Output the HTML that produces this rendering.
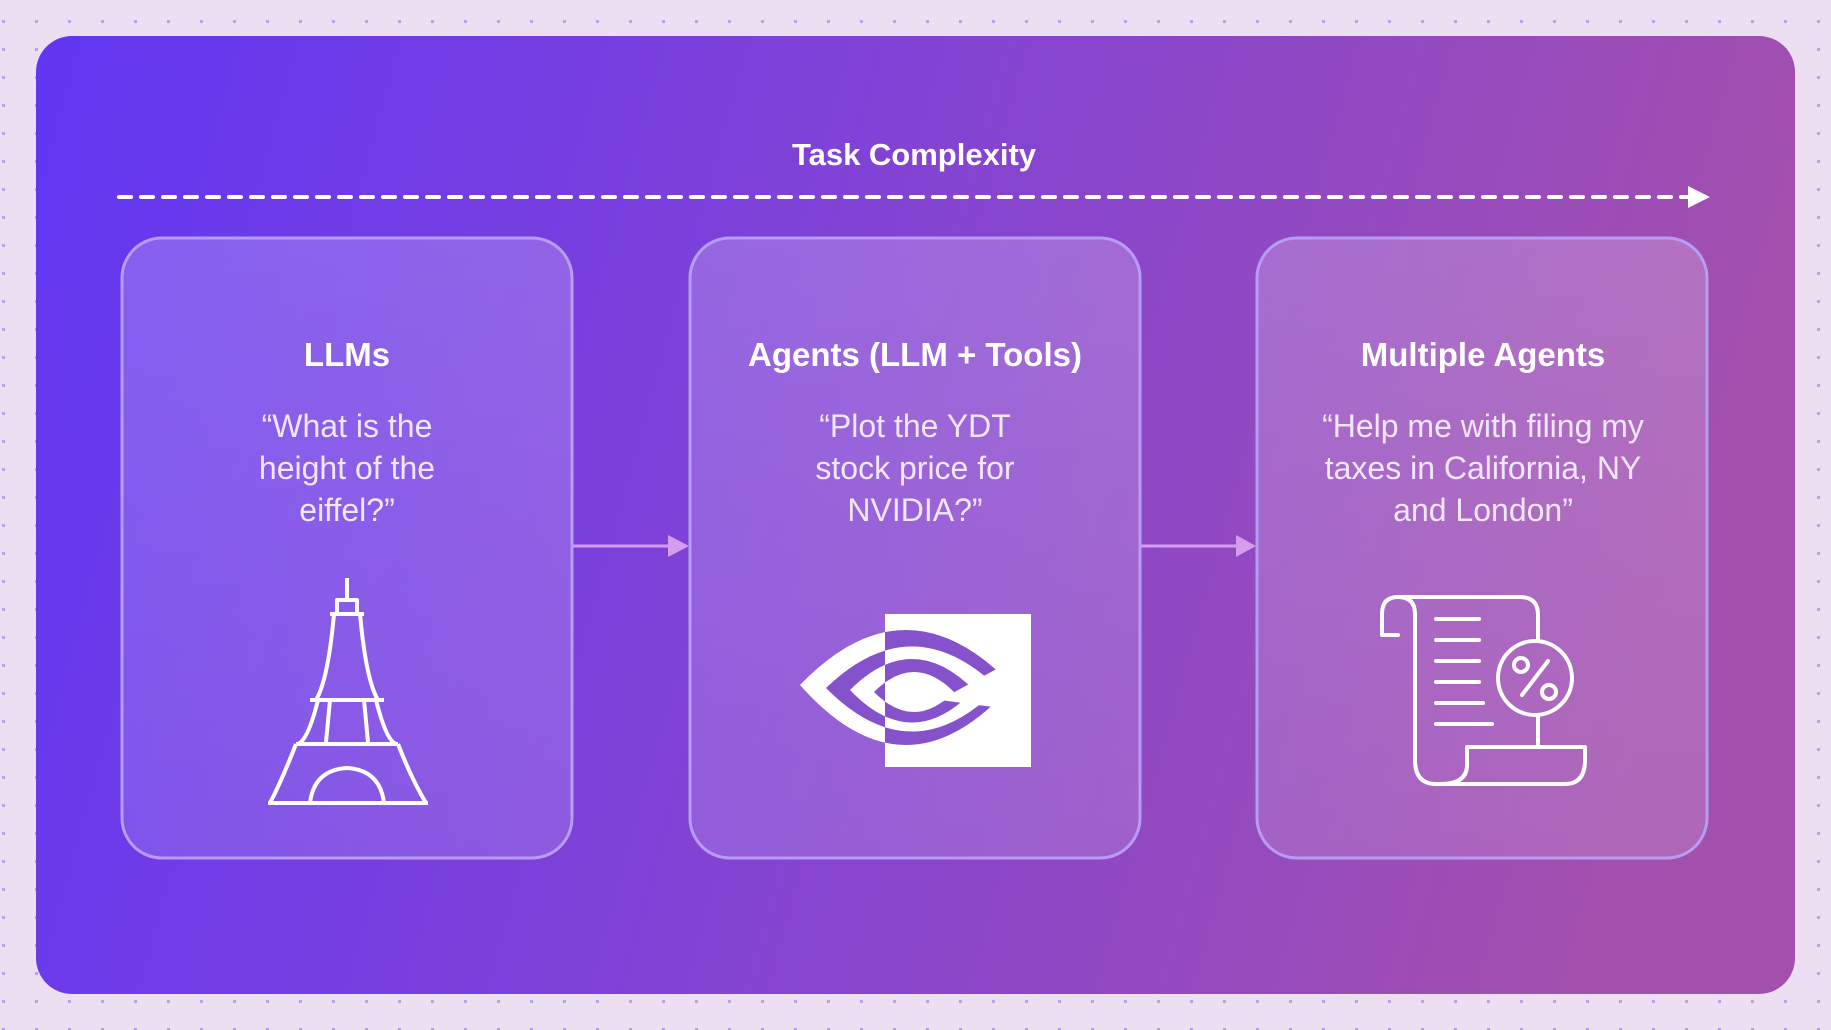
<!DOCTYPE html>
<html><head><meta charset="utf-8"><style>
html,body{margin:0;padding:0;width:1831px;height:1030px;overflow:hidden;background:#ebdff1;font-family:"Liberation Sans",sans-serif}
</style></head><body>
<svg width="1831" height="1030" viewBox="0 0 1831 1030" xmlns="http://www.w3.org/2000/svg">
<defs>
<pattern id="dots" width="33" height="28" patternUnits="userSpaceOnUse"><rect x="2" y="20" width="3" height="3" fill="#b7a3e6"/></pattern>
<linearGradient id="bg" x1="0" y1="0" x2="1" y2="0.15">
<stop offset="0" stop-color="#6136f2"/><stop offset="0.45" stop-color="#7f42d8"/><stop offset="1" stop-color="#a24fae"/></linearGradient>
<linearGradient id="card" x1="0" y1="0" x2="0" y2="1">
<stop offset="0" stop-color="#ffffff" stop-opacity="0.2"/><stop offset="1" stop-color="#ffffff" stop-opacity="0.13"/></linearGradient>
<clipPath id="cl"><rect x="780" y="590" width="105" height="200"/></clipPath>
<clipPath id="cr"><rect x="885" y="614" width="146" height="153"/></clipPath>
<path id="p1" d="M800 685 Q906 575 1012 685 Q906 805 800 685Z"/>
<path id="p2" d="M826 688 Q912 605 998 688 Q912 775 826 688Z"/>
<path id="p3" d="M850 690 Q912 628 974 690 Q912 755 850 690Z"/>
<path id="p4" d="M874 692 Q914 652 954 692 Q914 732 874 692Z"/>
</defs>
<rect width="1831" height="1030" fill="#ebdff1"/>
<rect width="1831" height="1030" fill="url(#dots)"/>
<rect x="36" y="36" width="1759" height="958" rx="36" fill="url(#bg)"/>
<text x="914" y="165" text-anchor="middle" font-size="31" font-weight="bold" fill="#fff">Task Complexity</text>
<line x1="119" y1="197" x2="1690" y2="197" stroke="#fff" stroke-width="4" stroke-dasharray="12,10" stroke-linecap="round"/>
<polygon points="1688,186 1710,197 1688,208" fill="#fff"/>
<line x1="572" y1="546" x2="672" y2="546" stroke="#d59cf0" stroke-width="3"/>
<polygon points="668,535 689,546 668,557" fill="#d59cf0"/>
<line x1="1140" y1="546" x2="1240" y2="546" stroke="#d59cf0" stroke-width="3"/>
<polygon points="1236,535 1256,546 1236,557" fill="#d59cf0"/>
<g stroke="#b89cf4" stroke-width="3" fill="url(#card)">
<rect x="122" y="238" width="450" height="620" rx="40"/>
<rect x="690" y="238" width="450" height="620" rx="40"/>
<rect x="1257" y="238" width="450" height="620" rx="40"/>
</g>
<g fill="#fff" text-anchor="middle">
<text x="347" y="366" font-size="33" font-weight="bold">LLMs</text>
<text x="915" y="366" font-size="33" font-weight="bold">Agents (LLM + Tools)</text>
<text x="1483" y="366" font-size="33" font-weight="bold">Multiple Agents</text>
<g font-size="32" fill="#f1e6fb">
<text x="347" y="437">“What is the</text><text x="347" y="479">height of the</text><text x="347" y="521">eiffel?”</text>
<text x="915" y="437">“Plot the YDT</text><text x="915" y="479">stock price for</text><text x="915" y="521">NVIDIA?”</text>
<text x="1483" y="437">“Help me with filing my</text><text x="1483" y="479">taxes in California, NY</text><text x="1483" y="521">and London”</text>
</g></g>
<!-- Eiffel -->
<g stroke="#fff" stroke-width="4" fill="none" stroke-linejoin="round">
<line x1="347" y1="578" x2="347" y2="600"/>
<rect x="337" y="600" width="20" height="14"/>
<line x1="330" y1="614" x2="364" y2="614"/>
<path d="M334 614 Q328 680 316 700 M360 614 Q366 680 378 700"/>
<line x1="310" y1="700" x2="384" y2="700"/>
<path d="M318 700 Q308 740 298 744 M376 700 Q386 740 396 744"/>
<line x1="296" y1="744" x2="398" y2="744"/>
<path d="M330 700 L326 742 M364 700 L368 742"/>
<path d="M296 744 Q282 780 270 803 M398 744 Q412 780 426 803"/>
<line x1="268" y1="803" x2="428" y2="803"/>
<path d="M310 803 Q314 770 347 768 Q380 770 384 803"/>
</g>
<!-- Nvidia -->
<rect x="885" y="614" width="146" height="153" fill="#fff"/>
<g clip-path="url(#cl)">
<use href="#p1" fill="#fff"/><use href="#p2" fill="#8552cc"/><use href="#p3" fill="#fff"/><use href="#p4" fill="#8552cc"/>
</g>
<g clip-path="url(#cr)">
<use href="#p1" fill="#8552cc"/><use href="#p2" fill="#fff"/><use href="#p3" fill="#8552cc"/><use href="#p4" fill="#fff"/>
<polygon points="940,700 1031,650 1031,712" fill="#fff"/>
</g>
<!-- Scroll -->
<g stroke="#fff" stroke-width="4" fill="none" stroke-linejoin="round" stroke-linecap="round">
<path d="M1398 635 L1382 635 L1382 614 Q1382 597 1398 597 Q1415 597 1415 614 L1415 760 Q1415 784 1436 784 L1565 784 Q1585 784 1585 760 L1585 747 L1467 747 L1467 765 Q1467 784 1440 784"/>
<path d="M1398 597 L1520 597 Q1538 597 1538 615 L1538 640"/>
<line x1="1436" y1="619" x2="1479" y2="619"/><line x1="1436" y1="640" x2="1479" y2="640"/>
<line x1="1436" y1="661" x2="1479" y2="661"/><line x1="1436" y1="682" x2="1479" y2="682"/>
<line x1="1436" y1="703" x2="1483" y2="703"/><line x1="1436" y1="724" x2="1492" y2="724"/>
<circle cx="1535" cy="678" r="37"/>
<line x1="1538" y1="716" x2="1538" y2="747"/>
<line x1="1522" y1="695" x2="1548" y2="661"/>
<circle cx="1521" cy="665" r="7"/><circle cx="1549" cy="692" r="7"/>
</g>
</svg>
</body></html>
